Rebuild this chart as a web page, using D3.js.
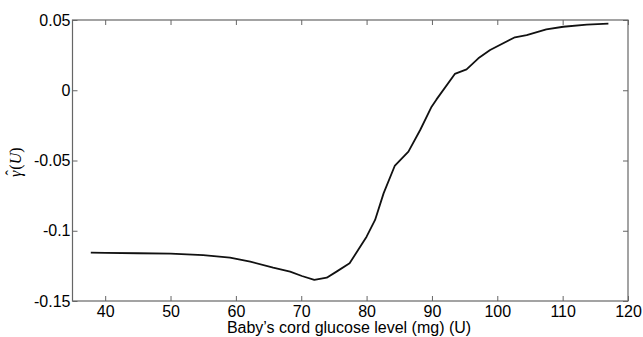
<!DOCTYPE html>
<html><head><meta charset="utf-8">
<script src="https://cdn.jsdelivr.net/npm/d3@7"></script>
<style>body{margin:0;background:#fff}svg{display:block}</style>
</head><body>
<svg id="c" width="643" height="337"></svg>
<script>
const xValues = [37.8,40,45,50,55,59.1,62.2,65.7,68.3,70.1,72.0,73.9,75.4,77.4,78.7,80.0,81.3,82.6,84.3,86.4,88.2,89.95,90.7,93.5,95.3,97.1,98.9,102.7,104.5,107.5,110.1,113.7,117.0];
const yValues = [-0.1156,-0.1158,-0.1160,-0.1163,-0.1173,-0.1192,-0.1220,-0.1263,-0.1291,-0.1322,-0.1350,-0.1334,-0.1291,-0.1232,-0.1137,-0.1042,-0.0923,-0.0734,-0.0539,-0.0437,-0.0283,-0.0117,-0.0065,0.0116,0.0149,0.0227,0.0286,0.0377,0.0393,0.0434,0.0452,0.0467,0.0474];
const xTicks = [40,50,60,70,80,90,100,110,120];
const yTicks = [-0.15,-0.1,-0.05,0,0.05];
const yTickLabels = ["-0.15","-0.1","-0.05","0","0.05"];
const xTitle = "Baby\u2019s cord glucose level (mg) (U)";

const svg = d3.select("#c");
const L=72.5, R=628, T=20, B=301;
const x = d3.scaleLinear().domain([35,120]).range([L,R]);
const y = d3.scaleLinear().domain([-0.15,0.05]).range([B,T]);
const axCol="#666";
const font="'Liberation Sans', Arial, sans-serif";

const styleAxis = g => {
  g.select(".domain").remove();
  g.selectAll(".tick line").attr("stroke",axCol).attr("stroke-width",1);
  g.selectAll(".tick text").attr("fill","#000").attr("font-family",font).attr("font-size","16px");
};
svg.append("g").attr("transform",`translate(0,${B})`)
  .call(d3.axisBottom(x).tickValues(xTicks).tickSize(-5).tickPadding(5).tickFormat(d3.format("d")))
  .call(styleAxis);
svg.append("g").attr("transform",`translate(0,${T})`)
  .call(d3.axisTop(x).tickValues(xTicks).tickSize(-5).tickFormat(""))
  .call(styleAxis);
svg.append("g").attr("transform",`translate(${L},0)`)
  .call(d3.axisLeft(y).tickValues(yTicks).tickSize(-5).tickPadding(2).tickFormat((d,i)=>yTickLabels[i]))
  .call(styleAxis);
svg.append("g").attr("transform",`translate(${R},0)`)
  .call(d3.axisRight(y).tickValues(yTicks).tickSize(-5).tickFormat(""))
  .call(styleAxis);
svg.append("rect").attr("x",L).attr("y",T).attr("width",R-L).attr("height",B-T)
  .attr("fill","none").attr("stroke",axCol).attr("stroke-width",1.2);

const data = xValues.map((v,i)=>[v,yValues[i]]);
svg.append("path").datum(data)
  .attr("fill","none").attr("stroke","#111").attr("stroke-width",1.8)
  .attr("stroke-linejoin","round")
  .attr("d", d3.line().x(d=>x(d[0])).y(d=>y(d[1])));

svg.append("text").attr("x",349).attr("y",333).attr("text-anchor","middle")
  .attr("font-family",font).attr("font-size","16px").text(xTitle);

// y-axis label: gamma-hat(U), rotated
const serif = "'Liberation Serif', 'DejaVu Serif', serif";
const yg = svg.append("g").attr("transform","translate(21,162) rotate(-90)");
const yl = yg.append("text").attr("x",-15).attr("y",0)
  .attr("font-family",serif).attr("font-size","16px");
const gam = yl.append("tspan").attr("font-style","italic").text("\u03B3");
yl.append("tspan").attr("dx",1).text("(");
yl.append("tspan").attr("font-style","italic").text("U");
yl.append("tspan").text(")");
const gw = gam.node().getComputedTextLength();
yg.append("text").attr("x",-15+gw/2+1).attr("y",-4).attr("text-anchor","middle")
  .attr("font-family",serif).attr("font-size","16px").text("\u02C6");
</script>
</body></html>
